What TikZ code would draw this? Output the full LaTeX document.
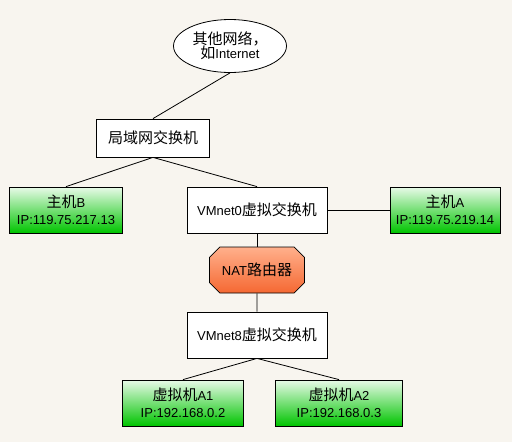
\documentclass[tikz,border=0pt]{standalone}
\usepackage{fontspec}
\setmainfont{Liberation Sans}
\newfontfamily\cjk{Noto Sans CJK SC}
\newcommand\zh[1]{{\cjk\fontsize{15}{18}\selectfont #1}}
\usetikzlibrary{shapes,shapes.misc,positioning}

\definecolor{paper}{RGB}{248,245,239}
\definecolor{hostlight}{RGB}{232,250,232}
\definecolor{hostdark}{RGB}{0,196,0}
\definecolor{natlight}{RGB}{255,176,140}
\definecolor{natdark}{RGB}{245,104,50}

\begin{document}
\begin{tikzpicture}[
    x=1pt, y=-1pt,
    node distance=65pt,
    line width=0.8pt,
    font=\fontsize{13}{17}\selectfont,
    net node/.style={ellipse,draw,fill=white,minimum width=113pt,minimum height=53pt,align=center,inner sep=0pt},
    switch node/.style={rectangle,draw,fill=white,minimum height=46pt},
    host node/.style={rectangle,draw,top color=hostlight,bottom color=hostdark,minimum height=46pt,align=center,inner sep=0pt},
    router node/.style={chamfered rectangle,draw,top color=natlight,bottom color=natdark,chamfered rectangle xsep=12pt,minimum width=95pt,minimum height=46pt,inner sep=0pt}
]

% Background
\fill[paper] (0,0) rectangle (512,442);

% Internet
\node[net node] (internet) at (230,46) {\zh{其他网络，}\\[-3pt]\zh{如}Internet};

% LAN switch
\node[switch node, below of=internet, node distance=92pt, xshift=-77pt, minimum width=113pt, minimum height=38pt] (lan) {\zh{局域网交换机}};

% Hosts and VMnet0
\node[switch node, below of=lan, node distance=72pt, xshift=104pt, minimum width=140pt] (vmnet0) {VMnet0\zh{虚拟交换机}};
\node[host node, below of=lan, node distance=72pt, xshift=-87pt, minimum width=113pt] (hostb) {\zh{主机}B\\IP:119.75.217.13};
\node[host node, below of=lan, node distance=72pt, xshift=292pt, minimum width=110pt] (hosta) {\zh{主机}A\\IP:119.75.219.14};

% NAT router
\node[router node, below of=vmnet0, node distance=60pt] (nat) {NAT\zh{路由器}};

% VMnet8
\node[switch node, below of=nat, node distance=65pt, minimum width=140pt] (vmnet8) {VMnet8\zh{虚拟交换机}};

% Virtual machines
\node[host node, below of=vmnet8, node distance=68pt, xshift=-74pt, minimum width=121pt] (vma1) {\zh{虚拟机}A1\\IP:192.168.0.2};
\node[host node, below of=vmnet8, node distance=68pt, xshift=82pt, minimum width=127pt] (vma2) {\zh{虚拟机}A2\\IP:192.168.0.3};

% Lines
\draw (internet.south) -- (lan.north);
\draw (lan.south) -- (hostb.north);
\draw (lan.south) -- (vmnet0.north);
\draw (vmnet0) -- (hosta);
\draw (vmnet0) -- (nat);
\draw (nat) -- (vmnet8);
\draw (vmnet8.south) -- (vma1.north);
\draw (vmnet8.south) -- (vma2.north);

\end{tikzpicture}
\end{document}
